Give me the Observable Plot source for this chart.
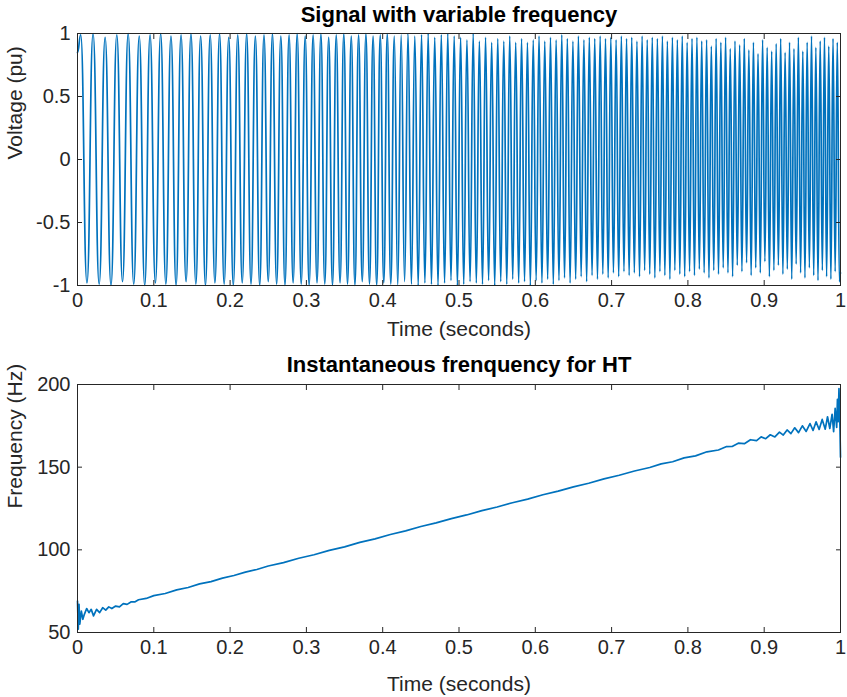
<!DOCTYPE html>
<html>
<head>
<meta charset="utf-8">
<script src="https://cdn.jsdelivr.net/npm/d3@7"></script>
<script src="https://cdn.jsdelivr.net/npm/@observablehq/plot@0.6"></script>
<style>
  html, body { margin: 0; padding: 0; background: #ffffff; }
  #chart svg { display: block; }
</style>
</head>
<body>
<div id="chart"></div>
<script>
// Signal with variable frequency: turning points (peaks and troughs) of the chirp, in seconds
const extremeTimes = [
  0,
  0.0042,0.0124,0.0204,0.0284,0.0362,0.0439,0.0515,0.0590,0.0664,0.0737,
  0.0809,0.0881,0.0951,0.1021,0.1090,0.1158,0.1225,0.1292,0.1357,0.1423,
  0.1487,0.1551,0.1614,0.1677,0.1739,0.1801,0.1862,0.1922,0.1982,0.2042,
  0.2100,0.2159,0.2217,0.2274,0.2331,0.2388,0.2444,0.2500,0.2555,0.2610,
  0.2665,0.2719,0.2773,0.2826,0.2879,0.2932,0.2984,0.3036,0.3088,0.3139,
  0.3190,0.3241,0.3292,0.3342,0.3391,0.3441,0.3490,0.3539,0.3588,0.3636,
  0.3684,0.3732,0.3780,0.3827,0.3874,0.3921,0.3968,0.4014,0.4060,0.4106,
  0.4152,0.4197,0.4242,0.4287,0.4332,0.4376,0.4421,0.4465,0.4509,0.4553,
  0.4596,0.4639,0.4682,0.4725,0.4768,0.4811,0.4853,0.4895,0.4937,0.4979,
  0.5021,0.5062,0.5104,0.5145,0.5186,0.5227,0.5267,0.5308,0.5348,0.5388,
  0.5428,0.5468,0.5508,0.5547,0.5587,0.5626,0.5665,0.5704,0.5743,0.5782,
  0.5820,0.5859,0.5897,0.5935,0.5973,0.6011,0.6049,0.6087,0.6124,0.6162,
  0.6199,0.6236,0.6273,0.6310,0.6347,0.6383,0.6420,0.6456,0.6493,0.6529,
  0.6565,0.6601,0.6637,0.6673,0.6708,0.6744,0.6779,0.6815,0.6850,0.6885,
  0.6920,0.6955,0.6990,0.7024,0.7059,0.7093,0.7128,0.7162,0.7196,0.7230,
  0.7264,0.7298,0.7332,0.7366,0.7400,0.7433,0.7467,0.7500,0.7533,0.7567,
  0.7600,0.7633,0.7666,0.7698,0.7731,0.7764,0.7797,0.7829,0.7862,0.7894,
  0.7926,0.7958,0.7990,0.8022,0.8054,0.8086,0.8118,0.8150,0.8181,0.8213,
  0.8245,0.8276,0.8307,0.8339,0.8370,0.8401,0.8432,0.8463,0.8494,0.8525,
  0.8555,0.8586,0.8617,0.8647,0.8678,0.8708,0.8739,0.8769,0.8799,0.8829,
  0.8859,0.8889,0.8919,0.8949,0.8979,0.9009,0.9039,0.9068,0.9098,0.9127,
  0.9157,0.9186,0.9216,0.9245,0.9274,0.9303,0.9332,0.9361,0.9390,0.9419,
  0.9448,0.9477,0.9506,0.9534,0.9563,0.9592,0.9620,0.9649,0.9677,0.9705,
  0.9734,0.9762,0.9790,0.9818,0.9846,0.9874,0.9902,0.9930,0.9958,0.9986,
  1
];

// Voltage at each turning point (pu)
const extremeValues = [
  0.85,
  0.99,-0.98,1,-0.99,0.97,-1,0.99,-0.97,1,-0.99,
  0.98,-1,0.99,-0.98,1,-0.99,0.98,-1,0.99,-0.97,
  1,-0.99,0.98,-1,0.99,-0.98,1,-0.99,0.97,-1,
  0.99,-0.98,1,-0.99,0.98,-1,0.99,-0.97,1,-0.99,
  0.98,-1,0.99,-0.98,1,-0.99,0.98,-1,0.99,-0.98,
  1,-0.99,0.97,-1,0.99,-0.98,1,-0.99,0.98,-1,
  0.99,-0.97,1,-0.99,0.98,-1,0.99,-0.98,1,-0.99,
  0.98,-1,0.99,-0.97,1,-0.99,0.98,-1,0.99,-0.98,
  1,-0.99,0.97,-1,0.99,-0.98,1,-0.96,0.98,-1,
  0.97,-0.99,0.95,-0.97,1,-0.98,0.94,-0.99,0.97,-0.96,
  0.93,-1,0.96,-0.97,0.94,-0.99,0.98,-0.95,0.93,-0.98,
  0.96,-0.97,0.93,-1,0.95,-0.96,0.98,-0.98,0.94,-0.95,
  0.97,-0.99,0.95,-0.96,0.99,-0.94,0.96,-0.98,0.94,-0.95,
  0.98,-0.93,0.95,-0.97,0.97,-0.92,0.96,-0.95,0.98,-0.91,
  0.96,-0.94,0.97,-0.9,0.95,-0.93,0.98,-0.89,0.96,-0.92,
  0.97,-0.9,0.94,-0.93,0.98,-0.88,0.95,-0.91,0.97,-0.94,
  0.96,-0.89,0.98,-0.92,0.94,-0.95,0.97,-0.88,0.95,-0.91,
  0.98,-0.93,0.93,-0.89,0.96,-0.92,0.97,-0.87,0.94,-0.9,
  0.95,-0.94,0.9,-0.88,0.96,-0.91,0.93,-0.86,0.97,-0.9,
  0.88,-0.93,0.94,-0.84,0.91,-0.89,0.96,-0.82,0.87,-0.92,
  0.93,-0.86,0.84,-0.9,0.95,-0.81,0.89,-0.93,0.86,-0.88,
  0.92,-0.84,0.96,-0.91,0.85,-0.87,0.93,-0.95,0.88,-0.83,
  0.97,-0.9,0.86,-0.94,0.93,-0.86,0.98,-0.92,0.89,-0.96,
  0.94,-0.88,0.97,-0.93,0.9,-0.95,0.96,-0.89,0.93,-0.97,
  -0.9
];

// Instantaneous frequency from the Hilbert transform (seconds, Hz)
const freqTimes = [
  0,0.001,0.002,0.003,0.005,0.007,0.009,0.012,0.015,0.018,
  0.021,0.025,0.029,0.033,0.037,0.041,0.045,0.050,0.055,0.060,
  0.065,0.070,0.075,0.080,0.090,0.100,0.115,0.130,0.145,0.160,
  0.175,0.190,0.205,0.220,0.235,0.250,0.270,0.290,0.310,0.330,
  0.350,0.370,0.390,0.410,0.430,0.450,0.470,0.490,0.510,0.530,
  0.550,0.570,0.590,0.610,0.630,0.650,0.670,0.690,0.710,0.730,
  0.750,0.765,0.780,0.795,0.810,0.825,0.840,0.850,0.858,0.866,
  0.874,0.882,0.890,0.896,0.902,0.908,0.914,0.920,0.925,0.930,
  0.935,0.940,0.945,0.950,0.955,0.960,0.964,0.968,0.972,0.976,
  0.980,0.983,0.986,0.989,0.991,0.993,0.995,0.996,0.997,0.998,
  0.999,1
];
const freqValues = [
  69,52,67,55,63,58,61,64.5,62,64,
  60,64,62,65,63.5,65.5,64.5,66,65.5,67.5,
  67,68.5,68.5,69.8,70.6,72.3,73.6,75.8,77.2,79.4,
  80.8,82.9,84.5,86.5,88.1,90.2,92.3,94.9,97.0,99.7,
  101.8,104.5,106.6,109.3,111.5,114.1,116.3,118.9,121.1,123.7,
  125.9,128.5,130.7,133.3,135.5,138.1,140.3,142.9,145.1,147.7,
  149.8,152.0,153.3,155.6,156.8,159.3,160.4,162.4,162.5,164.5,
  164.2,166.6,166.0,168.3,167.2,169.6,168.3,171.2,169.4,172.5,
  170.3,173.8,170.9,175.0,171.6,176.4,172.2,177.4,172.8,178.9,
  173.0,180.5,173.4,182.0,171.5,185.5,174.0,191.0,177.5,197.5,
  180.0,156.0
];

// Axis ticks
const timeTicks = [0, 0.1, 0.2, 0.3, 0.4, 0.5, 0.6, 0.7, 0.8, 0.9, 1];
const voltageTicks = [-1, -0.5, 0, 0.5, 1];
const freqTicks = [50, 100, 150, 200];

const axisColor = "#262626";
const lineColor = "#0072BD";
const fontFamily = '"Liberation Sans", Arial, Helvetica, sans-serif';
const fmt = (d) => String(d);
const blank = () => "";

const signal = extremeTimes.map((t, i) => ({t, v: extremeValues[i]}));
const freq = freqTimes.map((t, i) => ({t, f: freqValues[i]}));

// Shared MATLAB-style box: frame, inward ticks on all four sides, labels outside
function boxAxes(yTicks, title, xLabel, yLabel, {titleDy, xLabelDy}) {
  return [
    Plot.frame({stroke: axisColor, strokeWidth: 1}),
    Plot.axisX(timeTicks, {anchor: "bottom", tickSize: -5, tickFormat: blank, label: null, stroke: axisColor}),
    Plot.axisX(timeTicks, {anchor: "top", tickSize: -5, tickFormat: blank, label: null, stroke: axisColor}),
    Plot.axisX(timeTicks, {anchor: "bottom", tickSize: 0, tickPadding: 7, tickFormat: fmt, label: null, fontSize: 20, fill: axisColor}),
    Plot.axisY(yTicks, {anchor: "left", tickSize: -5, tickFormat: blank, label: null, stroke: axisColor}),
    Plot.axisY(yTicks, {anchor: "right", tickSize: -5, tickFormat: blank, label: null, stroke: axisColor}),
    Plot.axisY(yTicks, {anchor: "left", tickSize: 0, tickPadding: 7, tickFormat: fmt, label: null, fontSize: 20, fill: axisColor}),
    Plot.text([title], {text: (d) => d, frameAnchor: "top", lineAnchor: "middle", dy: titleDy, fontSize: 22, fontWeight: "bold", fill: "#000"}),
    Plot.text([xLabel], {text: (d) => d, frameAnchor: "bottom", lineAnchor: "middle", dy: xLabelDy, fontSize: 21, fill: axisColor}),
    Plot.text([yLabel], {text: (d) => d, frameAnchor: "left", lineAnchor: "middle", dx: -62, rotate: -90, fontSize: 21, fill: axisColor})
  ];
}

const topChart = Plot.plot({
  width: 847,
  height: 350,
  marginLeft: 77,
  marginRight: 7,
  marginTop: 33,
  marginBottom: 65,
  style: {fontFamily, background: "#ffffff", overflow: "visible"},
  x: {domain: [0, 1]},
  y: {domain: [-1, 1]},
  marks: [
    Plot.line(signal, {x: "t", y: "v", stroke: lineColor, strokeWidth: 1.7, curve: "bump-x"}),
    ...boxAxes(voltageTicks, "Signal with variable frequency", "Time (seconds)", "Voltage (pu)", {titleDy: -19, xLabelDy: 44})
  ]
});

const bottomChart = Plot.plot({
  width: 847,
  height: 347,
  marginLeft: 77,
  marginRight: 7,
  marginTop: 34,
  marginBottom: 65,
  style: {fontFamily, background: "#ffffff", overflow: "visible"},
  x: {domain: [0, 1]},
  y: {domain: [50, 200]},
  marks: [
    Plot.line(freq, {x: "t", y: "f", stroke: lineColor, strokeWidth: 1.7}),
    ...boxAxes(freqTicks, "Instantaneous frenquency for HT", "Time (seconds)", "Frequency (Hz)", {titleDy: -20, xLabelDy: 52})
  ]
});

const root = document.getElementById("chart");
root.appendChild(topChart);
root.appendChild(bottomChart);
</script>
</body>
</html>
